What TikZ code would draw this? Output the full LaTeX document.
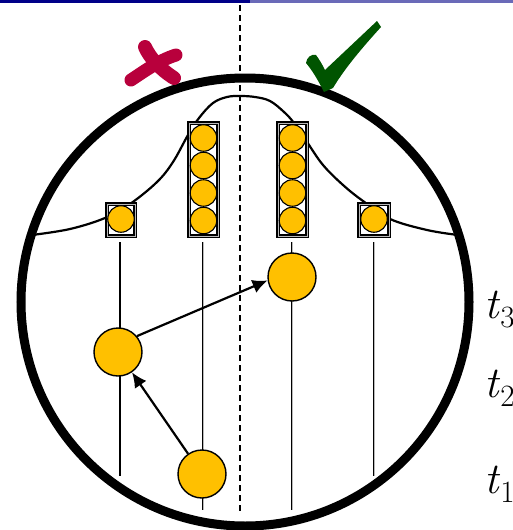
\documentclass[tikz,border=0pt]{standalone}
\usetikzlibrary{arrows.meta}
\definecolor{gold}{HTML}{FFC000}
\definecolor{barL}{HTML}{000088}
\definecolor{barR}{HTML}{6A6AB8}
\definecolor{crossred}{HTML}{B8003C}
\definecolor{checkgreen}{HTML}{005400}
\newcommand{\tsub}[1]{\textit{t}\raisebox{-0.22em}{\fontsize{31}{33}\selectfont #1}}
\tikzset{
  ball/.style={circle, fill=gold, draw=black, line width=1.4pt, minimum size=48pt, inner sep=0pt},
  smallball/.style={circle, fill=gold, draw=black, line width=1.1pt, minimum size=26.5pt, inner sep=0pt},
  binbox/.style={draw=black, fill=white, line width=1.3pt, double=gray!55, double distance=1pt},
  world/.style={draw=black, double=gray!55, double distance=0.9pt, line width=1pt},
  single/.style={draw=black, line width=1.4pt},
  arr/.style={line width=2.2pt, -{Latex[length=15pt,width=14pt]}},
  tlabel/.style={anchor=base west, inner sep=0pt, font=\fontsize{44}{50}\selectfont}
}
\begin{document}
\begin{tikzpicture}[x=1pt,y=-1pt]
\useasboundingbox (0,0) rectangle (513,530);
% top bar
\fill[barL] (0,0) rectangle (250,3);
\fill[barR] (250,0) rectangle (513,3);
% dashed divider
\draw[line width=1.1pt, dash pattern=on 6pt off 4pt] (240,5) -- (240,512);
% gaussian curve
\draw[line width=2.2pt, line join=round] plot[smooth, tension=0.6] coordinates {
 (32,235) (70,229) (105,218) (130,204) (157,182) (173,162) (188,135) (199,118)
 (213,103) (227,97) (240,96) (255,97) (270,101) (284,112) (294,123) (307,142) (323,165)
 (343,185) (363,201) (390,219) (427,230) (458,235)};
% vertical world lines
\draw[single] (120,242) -- (120,476);
\draw[world] (203,242) -- (203,510);
\draw[world] (292,242) -- (292,510);
\draw[world] (374,242) -- (374,476);
% boxes
\draw[binbox] (107,204) rectangle (135,236);
\draw[binbox] (189,123) rectangle (218,236);
\draw[binbox] (278,123) rectangle (307,236);
\draw[binbox] (359,204) rectangle (389,236);
\node[smallball] (s1) at (121,219) {};
\node[smallball] (l1) at (203.5,138) {};
\node[smallball] (l2) at (203.5,165.5) {};
\node[smallball] (l3) at (203.5,193) {};
\node[smallball] (l4) at (203.5,220.5) {};
\node[smallball] (r1) at (292.5,138) {};
\node[smallball] (r2) at (292.5,165.5) {};
\node[smallball] (r3) at (292.5,193) {};
\node[smallball] (r4) at (292.5,220.5) {};
\node[smallball] (s2) at (374,219) {};
% big circle
\draw[line width=9pt] (245,302) circle[radius=224];
% balls and arrows
\node[ball] (A) at (118,352) {};
\node[ball] (B) at (292,277) {};
\node[ball] (C) at (202,474) {};
\draw[arr] (C) -- (A);
\draw[arr] (A.40) -- (B.188);
% labels
\node[tlabel] (t3) at (484,318) {\tsub{3}};
\node[tlabel] (t2) at (484,397) {\tsub{2}};
\node[tlabel] (t1) at (484,493) {\tsub{1}};
% cross mark
\draw[crossred, line width=14pt, line cap=round] (145,47) .. controls (150,58) and (160,69) .. (174,78);
\draw[crossred, line width=13pt, line cap=round] (131,80) .. controls (146,70) and (160,60) .. (176,55);
% check mark
\fill[checkgreen] (306,63) .. controls (307,57) and (311,54) .. (316,55)
  .. controls (319,59) and (322,64) .. (325,70)
  -- (377,21) -- (381,27)
  .. controls (362,48) and (345,68) .. (333,88)
  -- (324,92)
  .. controls (318,80) and (312,70) .. cycle;
\end{tikzpicture}
\end{document}
